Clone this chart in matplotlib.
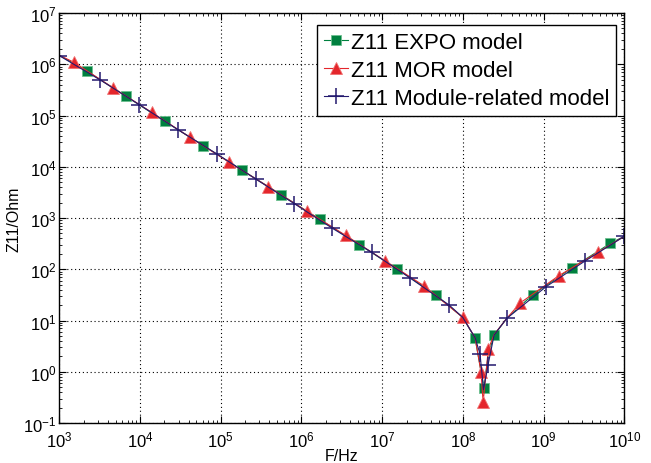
import matplotlib
matplotlib.use("Agg")
import matplotlib.pyplot as plt
from matplotlib.ticker import LogLocator, NullFormatter

plt.rcParams['font.family'] = ['Liberation Sans', 'DejaVu Sans']
plt.rcParams['mathtext.fontset'] = 'custom'
plt.rcParams['mathtext.rm'] = 'Liberation Sans'
plt.rcParams['mathtext.default'] = 'regular'

# ===== DATA =====
# log10(frequency) and |Z11| in Ohm; markevery lists say which points carry a marker

# Z11 EXPO model (green squares)
expo_logf = [3.0, 3.347, 3.826, 4.306, 4.784, 5.267, 5.747, 6.226, 6.717, 7.188,
             7.664, 7.998, 8.151, 8.225, 8.262, 8.31, 8.386, 8.543, 8.865, 9.349,
             9.827, 10.0]
expo_z = [1.5e6, 7.28e5, 2.37e5, 7.71e4, 2.58e4, 8.53e3, 2.85e3, 944, 301, 101,
          31.4, 11.5, 4.5, 1.0, 0.489, 2.0, 5.21, 11.0, 31.9, 106,
          321, 440]
expo_marks = [1, 2, 3, 4, 5, 6, 7, 8, 9, 10, 12, 14, 16, 18, 19, 20]

# Z11 MOR model (red triangles)
mor_logf = [3.0, 3.182, 3.669, 4.145, 4.619, 5.106, 5.590, 6.069, 6.549, 7.032,
            7.515, 7.998, 8.151, 8.225, 8.250, 8.315, 8.386, 8.543, 8.708, 9.188,
            9.671, 10.0]
mor_z = [1.5e6, 1.09e6, 3.44e5, 1.15e5, 3.76e4, 1.22e4, 4.08e3, 1.35e3, 456, 147,
         47.8, 11.5, 4.6, 0.975, 0.254, 2.78, 5.3, 11.0, 21.9, 74.8,
         214, 440]
mor_marks = [1, 2, 3, 4, 5, 6, 7, 8, 9, 10, 11, 13, 14, 15, 18, 19, 20]

# Z11 Module-related model (navy plus)
mod_logf = [3.0, 3.508, 3.991, 4.471, 4.954, 5.433, 5.912, 6.383, 6.871, 7.345,
            7.828, 7.998, 8.151, 8.212, 8.255, 8.312, 8.386, 8.543, 9.030, 9.513,
            10.0]
mod_z = [1.47e6, 4.93e5, 1.63e5, 5.28e4, 1.77e4, 5.77e3, 1.90e3, 630, 214, 67.5,
         20.1, 11.5, 4.6, 2.22, 0.45, 1.38, 5.2, 11.0, 45.7, 145,
         440]
mod_marks = [0, 1, 2, 3, 4, 5, 6, 7, 8, 9, 10, 13, 15, 17, 18, 19, 20]

x_ticks = [1e3, 1e4, 1e5, 1e6, 1e7, 1e8, 1e9, 1e10]
y_ticks = [1e-1, 1e0, 1e1, 1e2, 1e3, 1e4, 1e5, 1e6, 1e7]

green = '#00803f'
red = '#e4262c'
navy = '#23196e'

fig = plt.figure(figsize=(6.51, 4.64), dpi=100)
ax = fig.add_axes([0.0911, 0.0862, 0.868, 0.8836])

ax.plot([10 ** v for v in expo_logf], expo_z, '-', color=green, lw=0.8,
        marker='s', markersize=6.5, markerfacecolor=green, markeredgecolor='#6cc08f',
        markeredgewidth=0.6, markevery=expo_marks, label='Z11 EXPO model')
ax.plot([10 ** v for v in mor_logf], mor_z, '-', color=red, lw=0.8,
        marker='^', markersize=8, markerfacecolor=red, markeredgecolor='#f07070',
        markeredgewidth=0.6, markevery=mor_marks, label='Z11 MOR model')
ax.plot([10 ** v for v in mod_logf], mod_z, '-', color=navy, lw=0.8,
        marker='+', markersize=11, markeredgewidth=1.1, markevery=mod_marks,
        label='Z11 Module-related model')

ax.set_xscale('log')
ax.set_yscale('log')
ax.set_xlim(1e3, 1e10)
ax.set_ylim(1e-1, 1e7)
ax.set_xticks(x_ticks)
ax.set_yticks(y_ticks)
ax.xaxis.set_minor_locator(LogLocator(base=10, subs=range(2, 10), numticks=100))
ax.yaxis.set_minor_locator(LogLocator(base=10, subs=range(2, 10), numticks=100))
ax.xaxis.set_minor_formatter(NullFormatter())
ax.yaxis.set_minor_formatter(NullFormatter())

ax.grid(True, which='major', color='black', linestyle=(0, (1, 2.5)), linewidth=0.8)
ax.tick_params(which='both', direction='in', top=True, right=True, labelsize=12)
ax.tick_params(which='major', length=5, width=0.8)
ax.tick_params(axis='y', which='major', pad=2)
ax.tick_params(axis='x', which='major', pad=5)
ax.tick_params(which='minor', length=2.5, width=0.6)
for s in ax.spines.values():
    s.set_linewidth(1.0)

ax.set_xlabel('F/Hz', fontsize=11.5, labelpad=-1)
ax.set_ylabel('Z11/Ohm', fontsize=11.5, labelpad=1)

leg = ax.legend(loc='upper right', bbox_to_anchor=(615.7 / 651, 1 - 26 / 464),
                bbox_transform=fig.transFigure, fontsize=16, frameon=True,
                fancybox=False, edgecolor='black', framealpha=1,
                handlelength=1.1, handletextpad=0.1, borderpad=0.3,
                labelspacing=0.32, borderaxespad=0)
leg.get_frame().set_linewidth(1.0)

fig.savefig('out.png', dpi=100)
